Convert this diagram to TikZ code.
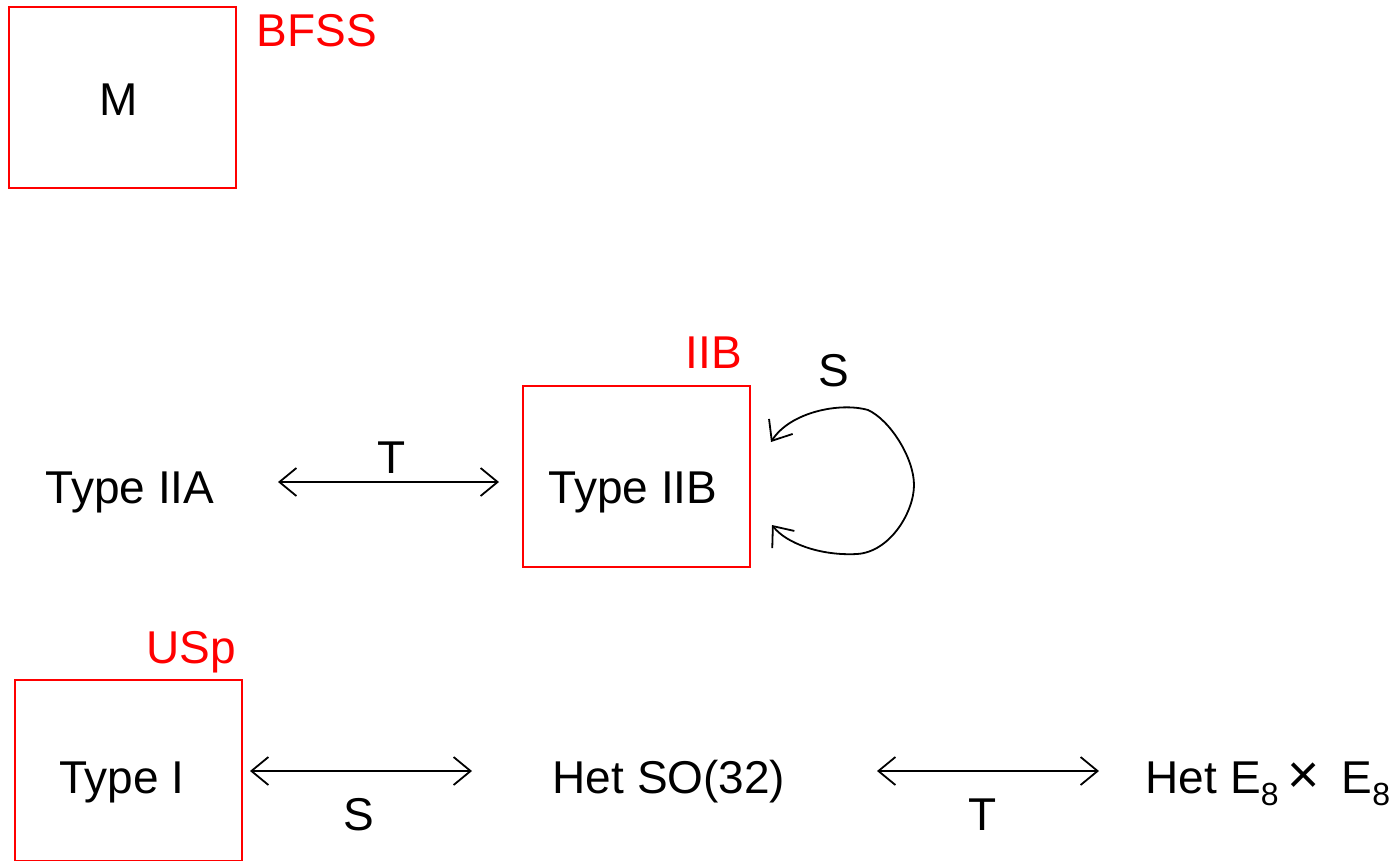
\documentclass[tikz,border=0pt]{standalone}
\usepackage{fontspec}
\setmainfont{Liberation Sans}
\usetikzlibrary{arrows.meta}
% lowered index digit (E_8)
\newcommand{\lowidx}[1]{\raisebox{-12pt}{\fontsize{32}{32}\selectfont #1}}
\begin{document}
\begin{tikzpicture}[x=1pt,y=-1pt,
  lbl/.style={font=\fontsize{46}{55}\selectfont, inner sep=0pt, anchor=base},
  redlbl/.style={lbl, text=red},
  redbox/.style={draw=red, line width=2pt, inner sep=0pt,
                 minimum width=227pt, minimum height=181pt},
  barb/.tip={Straight Barb[length=17pt,width=28pt]},
  dual/.style={line width=1.8pt, barb-barb}]
\useasboundingbox (0,0) rectangle (1395,860);
\clip (0,0) rectangle (1395,860);

% theory boxes
\node[redbox] (mbox)   at (122.5,97.5) {};
\node[redbox] (iibbox) at (636.5,476.5) {};
\node[redbox] (ibox)   at (128.5,770.5) {};

% theory names
\node[lbl] (m)    at (118.5,115) {M};
\node[lbl] (iia)  at (130,503)   {Type IIA};
\node[lbl] (iib)  at (633,503)   {Type IIB};
\node[lbl] (ti)   at (122,793)   {Type I};
\node[lbl] (hso)  at (669,793)   {Het SO(32)};
\node[lbl] (he8)  at (1268,793)
  {Het E\lowidx{8}\hspace{9pt}\scalebox{1.2}{×}\hspace{22pt}E\lowidx{8}};

% matrix-model labels
\node[redlbl] (bfss) at (317,46)  {BFSS};
\node[redlbl] (iibm) at (714,368) {IIB};
\node[redlbl] (usp)  at (191,663) {USp};

% duality arrows
\coordinate (t1a) at (278,482);
\coordinate (t1b) at (499,482);
\draw[dual] (t1a) -- (t1b);
\node[lbl] (t1) at (392,473) {T};

\coordinate (s1a) at (250,771);
\coordinate (s1b) at (472,771);
\draw[dual] (s1a) -- (s1b);
\node[lbl] (s1) at (359,830) {S};

\coordinate (t2a) at (877,771);
\coordinate (t2b) at (1099,771);
\draw[dual] (t2a) -- (t2b);
\node[lbl] (t2) at (983,830) {T};

% S self-duality of IIB
\coordinate (loopin)  at (772,525);
\coordinate (loopout) at (771,442);
\draw[dual] (loopin)
  .. controls (786,543) and (820,556) .. (857,554)
  .. controls (890,552) and (914,512) .. (914,485)
  .. controls (914,458) and (890,420) .. (868,410)
  .. controls (840,402) and (790,412) .. (loopout);
\node[lbl] (s2) at (834,386) {S};
\end{tikzpicture}
\end{document}
